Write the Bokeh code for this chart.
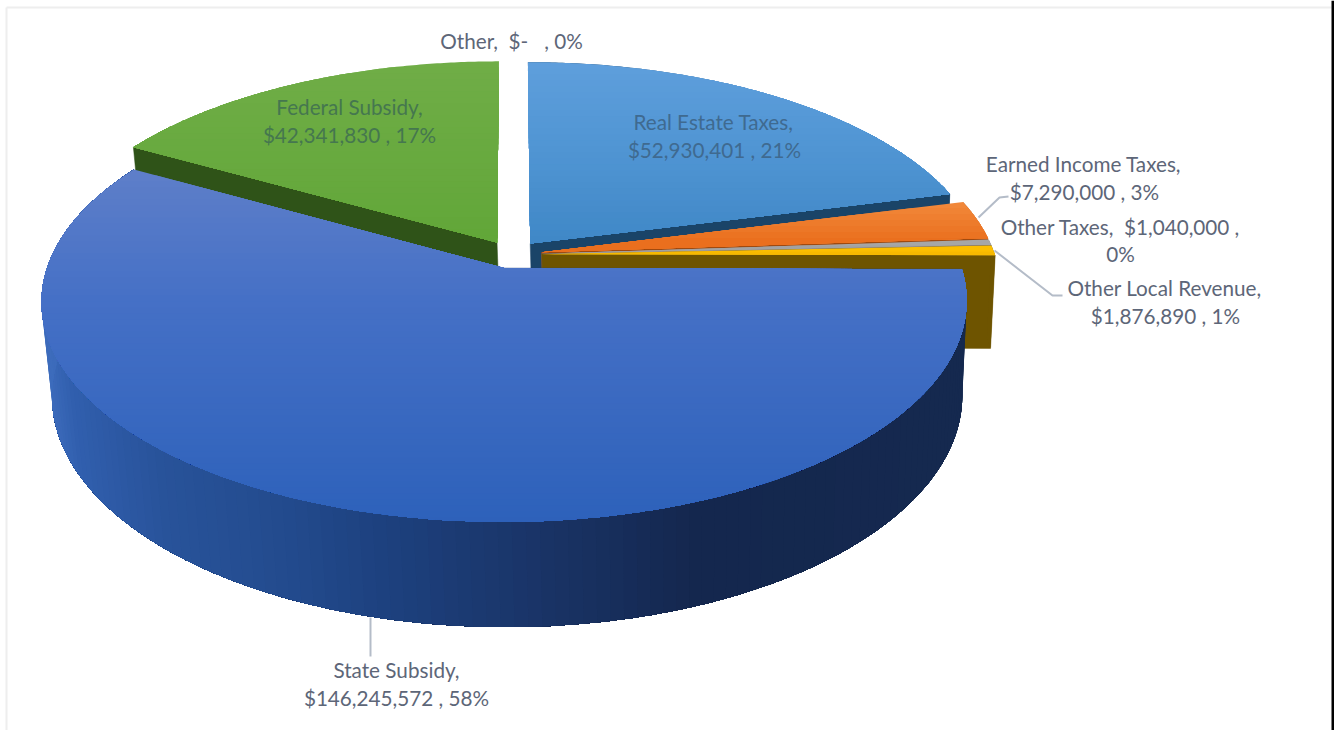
import numpy as np
from bokeh.embed import file_html
from bokeh.models import Range1d
from bokeh.plotting import figure
from bokeh.resources import INLINE
from bokeh.core.properties import value

# Budget revenue by source, in dollars, clockwise from twelve o'clock
categories = ["Real Estate Taxes", "Earned Income Taxes", "Other Taxes",
              "Other Local Revenue", "State Subsidy", "Federal Subsidy", "Other"]
amounts = [52930401, 7290000, 1040000, 1876890, 146245572, 42341830, 0]
label_text = ["$52,930,401 , 21%", "$7,290,000 , 3%", "$1,040,000 ,",
              "$1,876,890 , 1%", "$146,245,572 , 58%", "$42,341,830 , 17%",
              "$-\u00a0\u00a0\u00a0,\u00a00%"]

# Pie geometry in page pixels
CX, CY = 511.5, 254.0
RX, RY = 453.0, 211.5
TILT = 0.149
THICK = 94.5
THICK_SCALE = 0.016
THICK_SHIFT = 3.0
EXPLODE = 0.066


def project(x, y, d=0.0):
    s = 1.0 / (1.0 + TILT * y + THICK_SCALE * d)
    return CX + RX * x * s + THICK_SHIFT * d, CY - RY * y * s + THICK * d * s


def hex_rgb(c):
    return np.array([int(c[i:i + 2], 16) for i in (1, 3, 5)], float)


def ramp(stops, t):
    at = [s[0] for s in stops]
    cols = np.array([hex_rgb(s[1]) for s in stops])
    rgb = [np.interp(t, at, cols[:, i]) for i in range(3)]
    return "#%02x%02x%02x" % tuple(int(round(v)) for v in rgb)


def clip_below(px, py, ymin):
    """Keep the part of a polygon lying at or below the page row ymin."""
    ox, oy = [], []
    n = len(px)
    for i in range(n):
        x0, y0, x1, y1 = px[i], py[i], px[(i + 1) % n], py[(i + 1) % n]
        if y0 >= ymin:
            ox.append(x0)
            oy.append(y0)
        if (y0 >= ymin) != (y1 >= ymin):
            t = (ymin - y0) / (y1 - y0)
            ox.append(x0 + t * (x1 - x0))
            oy.append(ymin)
    return ox, oy


p = figure(width=1334, height=730, output_backend="svg", toolbar_location=None,
           x_range=Range1d(0, 1334), y_range=Range1d(730, 0), min_border=0,
           outline_line_color=None, background_fill_color="#ffffff")
p.axis.visible = False
p.grid.visible = False

# Thin frame along the top and left, dark strip at the far right
p.segment([6, 6], [7, 7], [1331, 6], [7, 730], line_color="#eeeeee", line_width=2)
p.quad(left=[1331], right=[1334], top=[0], bottom=[730], fill_color="#000000", line_color=None)

total = sum(amounts)
sweep = np.array(amounts) / total * 360.0
starts = 90.0 - np.concatenate([[0.0], np.cumsum(sweep)[:-1]])
ends = starts - sweep

# Face colours per slice: top-face ramp (page row, colour), radial cut face
top_ramps = {
    "Real Estate Taxes": [(60, "#5f9fdc"), (150, "#5095d3"), (245, "#3f87c6")],
    "Earned Income Taxes": [(200, "#f28a3c"), (240, "#ea6f1e")],
    "Other Taxes": [(240, "#a8a8a8"), (250, "#a0a0a0")],
    "Other Local Revenue": [(245, "#ffc000"), (256, "#f5b800")],
    "State Subsidy": [(165, "#5f7fc9"), (300, "#4570c6"), (525, "#2d61ba")],
    "Federal Subsidy": [(60, "#70ad47"), (260, "#60a637")],
}
cut_colors = {
    "Real Estate Taxes": "#1a4468",
    "Earned Income Taxes": "#a04a10",
    "Other Taxes": "#6a6a6a",
    "Other Local Revenue": "#6e5400",
    "State Subsidy": "#1f3f78",
    "Federal Subsidy": "#2f5318",
}
wall_ramps = {
    "State Subsidy": [(42, "#3d6cbc"), (70, "#315fae"), (160, "#28539a"), (280, "#234b8e"),
                      (380, "#1d417f"), (525, "#1a3569"), (700, "#14274e"), (970, "#15294f")],
}

# Far slices first so the nearer ones overlap them
draw_order = ["Federal Subsidy", "Real Estate Taxes", "Earned Income Taxes",
              "Other Taxes", "Other Local Revenue", "State Subsidy"]

for name in draw_order:
    i = categories.index(name)
    a0, a1 = np.radians(starts[i]), np.radians(ends[i])
    mid = (a0 + a1) / 2
    ox, oy = EXPLODE * np.cos(mid), EXPLODE * np.sin(mid)
    th = np.linspace(a0, a1, max(int(abs(np.degrees(a1 - a0)) * 2), 4))
    ux, uy = ox + np.cos(th), oy + np.sin(th)

    # radial cut face on the side turned towards the viewer
    edge = a0 if np.sin(a0) < np.sin(a1) else a1
    ex, ey = ox + np.cos(edge), oy + np.sin(edge)
    fx0, fy0 = project(ox, oy, 0)
    fx1, fy1 = project(ex, ey, 0)
    fx2, fy2 = project(ex, ey, 1)
    fx3, fy3 = project(ox, oy, 1)
    p.patch([fx0, fx1, fx2, fx3], [fy0, fy1, fy2, fy3],
            fill_color=cut_colors[name], line_color=cut_colors[name], line_width=0.5)

    # outer wall: each pass repaints the rest of the arc, so no seams show;
    # a slice wholly at the back left has no visible wall
    if not (np.cos(mid) < 0 and np.sin(mid) > 0):
        tx, ty = project(ux, uy, 0)
        bx, by = project(ux, uy, 1)
        stops = wall_ramps.get(name, [(0, cut_colors[name]), (1334, cut_colors[name])])
        step = 3 if name == "State Subsidy" else len(th)
        for j in range(0, len(th) - 1, step):
            col = ramp(stops, tx[min(j + step // 2, len(th) - 1)])
            p.patch(list(tx[j:]) + list(bx[j:][::-1]), list(ty[j:]) + list(by[j:][::-1]),
                    fill_color=col, line_color=None)

    # top face, painted in overlapping rows for the vertical shading
    fx, fy = project(np.append(ux, ox), np.append(uy, oy), 0)
    fx, fy = list(fx), list(fy)
    rows = np.arange(min(fy), max(fy), 6.0)
    for r in rows:
        cx_, cy_ = clip_below(fx, fy, r)
        if len(cx_) >= 3:
            p.patch(cx_, cy_, fill_color=ramp(top_ramps[name], r + 3), line_color=None)

# Leader lines
LEADER = "#b4bcc8"
p.line([370, 370], [617, 656], line_color=LEADER, line_width=2)
p.line([978, 999, 1008], [217, 197, 196], line_color=LEADER, line_width=2)
p.line([994, 1052, 1062], [250, 295, 295], line_color=LEADER, line_width=2)

# Data labels: two lines each, one colour per background
OUTSIDE = "#5d6678"
labels = [
    ("Real Estate Taxes,", 713, 121, "#3f6a90"),
    (label_text[0], 714, 149, "#3f6a90"),
    ("Federal Subsidy,", 349, 106, "#45774f"),
    (label_text[5], 349, 134, "#45774f"),
    ("Other,\u00a0\u00a0" + label_text[6], 511, 40, OUTSIDE),
    ("Earned Income Taxes,", 1083, 163, OUTSIDE),
    (label_text[1], 1084, 191, OUTSIDE),
    ("Other Taxes,\u00a0\u00a0" + label_text[2], 1120, 226, OUTSIDE),
    ("0%", 1120, 253, OUTSIDE),
    ("Other Local Revenue,", 1164, 287, OUTSIDE),
    (label_text[3], 1165, 315, OUTSIDE),
    ("State Subsidy,", 396, 669, OUTSIDE),
    (label_text[4], 396, 697, OUTSIDE),
]
p.text([l[1] for l in labels], [l[2] for l in labels], text=[l[0] for l in labels],
       text_color=[l[3] for l in labels], text_font=value("Lato"), text_font_size="20.7px",
       text_align="center", text_baseline="middle")

open("out.html", "w").write(file_html(p, INLINE))
